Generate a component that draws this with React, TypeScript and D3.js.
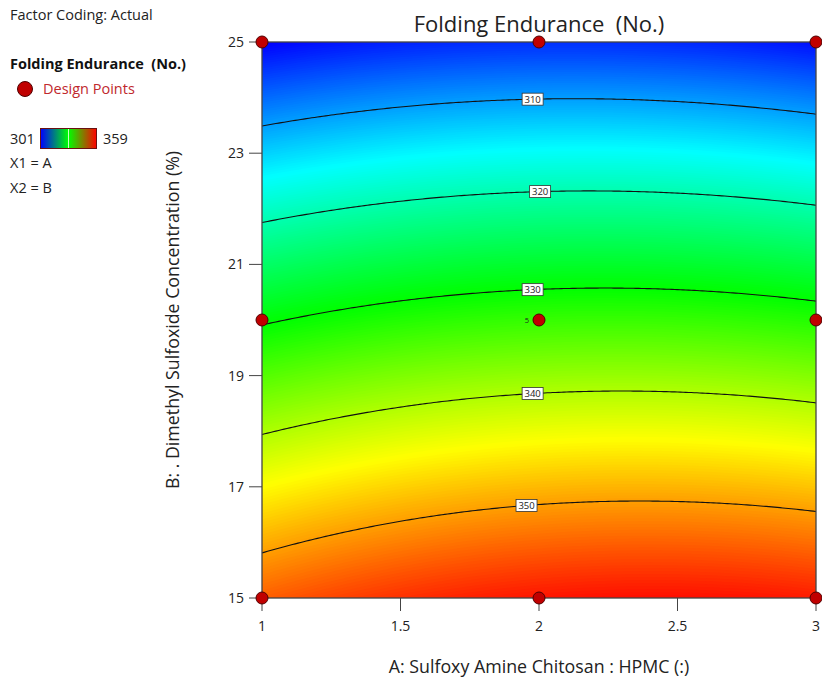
import { useMemo } from 'react';
import * as d3 from 'd3';

// Folding Endurance response surface (actual factor coding)
// FE = b0 + bA*A + bB*B + bAB*A*B + bAA*A^2 + bBB*B^2
const modelTerms = ['Intercept', 'A', 'B', 'AB', 'A^2', 'B^2'];
const modelCoefs = [386.965, 13.385, -1.428, -0.15, -2.3, -0.0924];

const contourLevels = [310, 320, 330, 340, 350];
const contourLabelA = [1.977, 2.004, 1.977, 1.977, 1.955];

const designA = [1, 2, 3, 1, 2, 3, 1, 2, 3];
const designB = [25, 25, 25, 20, 20, 20, 15, 15, 15];
const designRuns = [1, 1, 1, 1, 5, 1, 1, 1, 1];

const xTicks = [1, 1.5, 2, 2.5, 3];
const yTicks = [15, 17, 19, 21, 23, 25];
const colorLimits = [301, 359];
const rampColors = ['#0000ff', '#00ffff', '#00ff00', '#ffff00', '#ff0000'];

const FONT = '"Open Sans", "Noto Sans", sans-serif';
const TXT = '#222';

const coef = Object.fromEntries(modelTerms.map((t, i) => [t, modelCoefs[i]]));
const fe = (a: number, b: number) =>
  coef['Intercept'] + coef['A'] * a + coef['B'] * b + coef['AB'] * a * b + coef['A^2'] * a * a + coef['B^2'] * b * b;

// B where the surface equals `level` for a given A
const solveB = (a: number, level: number) => {
  const p = coef['B^2'];
  const q = coef['B'] + coef['AB'] * a;
  const r = coef['Intercept'] + coef['A'] * a + coef['A^2'] * a * a - level;
  const disc = Math.sqrt(q * q - 4 * p * r);
  const roots = [(-q + disc) / (2 * p), (-q - disc) / (2 * p)];
  return roots.find(v => v >= 13 && v <= 27) ?? NaN;
};

export default function App() {
  const W = 822, H = 682;
  const x = d3.scaleLinear().domain([1, 3]).range([262, 816]);
  const y = d3.scaleLinear().domain([15, 25]).range([598, 42]);

  const lo = colorLimits[0], hi = colorLimits[1];
  const color = d3.scaleLinear<string>()
    .domain(d3.range(rampColors.length).map(i => lo + (hi - lo) * i / (rampColors.length - 1)))
    .range(rampColors)
    .clamp(true);

  const n = 140;
  const bands = useMemo(() => {
    const vals: number[] = new Array(n * n);
    for (let j = 0; j < n; j++)
      for (let i = 0; i < n; i++)
        vals[i + j * n] = fe(1 + (i / (n - 1)) * 2, 15 + (j / (n - 1)) * 10);
    const step = 0.25;
    return d3.contours().size([n, n]).thresholds(d3.range(lo, hi + step, step))(vals);
  }, []);

  const proj = d3.geoTransform({
    point(px: number, py: number) {
      this.stream.point(
        x(1 + ((px - 0.5) / (n - 1)) * 2),
        y(15 + ((py - 0.5) / (n - 1)) * 10)
      );
    },
  });
  const geoPath = d3.geoPath(proj);

  const aSamples = d3.range(0, 201).map(k => 1 + (k / 200) * 2);
  const line = d3.line<[number, number]>().x(d => x(d[0])).y(d => y(d[1])).curve(d3.curveLinear);

  const [x0, x1] = x.range();
  const [y0, y1] = [y(25), y(15)];

  return (
    <svg width={W} height={H} style={{ position: 'absolute', left: 0, top: 0, background: '#fff' }}
      fontFamily={FONT}>
      <defs>
        <clipPath id="plot-clip">
          <rect x={x0} y={y0} width={x1 - x0} height={y1 - y0} />
        </clipPath>
        <linearGradient id="legend-grad">
          <stop offset="0%" stopColor="#0000ff" />
          <stop offset="50%" stopColor="#00ff00" />
          <stop offset="100%" stopColor="#ff0000" />
        </linearGradient>
      </defs>

      {/* legend */}
      <text x={10} y={20} fontSize={14.5} fill={TXT}>Factor Coding: Actual</text>
      <text x={10} y={69} fontSize={14.5} fontWeight="bold" fill="#111" xmlSpace="preserve">Folding Endurance  (No.)</text>
      <circle cx={25} cy={89} r={7.5} fill="#c00000" stroke="#500000" strokeWidth={1} />
      <text x={43} y={94} fontSize={14.5} fill="#c0282d">Design Points</text>
      <text x={10} y={144} fontSize={14.5} fill={TXT}>{colorLimits[0]}</text>
      <rect x={40.5} y={128.5} width={56} height={20} fill="url(#legend-grad)" stroke="#6a1010" strokeWidth={1} />
      <line x1={68.5} x2={68.5} y1={129} y2={148} stroke="#c8ffc8" strokeWidth={1} />
      <text x={103} y={144} fontSize={14.5} fill={TXT}>{colorLimits[1]}</text>
      <text x={10} y={168} fontSize={14.5} fill={TXT}>X1 = A</text>
      <text x={10} y={193} fontSize={14.5} fill={TXT}>X2 = B</text>

      {/* title */}
      <text x={(x0 + x1) / 2} y={32} fontSize={22} textAnchor="middle" fill={TXT} xmlSpace="preserve">
        Folding Endurance  (No.)
      </text>

      {/* colour surface */}
      <g clipPath="url(#plot-clip)">
        <rect x={x0} y={y0} width={x1 - x0} height={y1 - y0} fill={color(lo)} />
        {bands.map((b, i) => (
          <path key={i} d={geoPath(b as any) ?? ''} fill={color(b.value + 0.125)} />
        ))}
        {contourLevels.map(lv => {
          const pts = aSamples.map(a => [a, solveB(a, lv)] as [number, number]).filter(p => !isNaN(p[1]));
          return <path key={lv} d={line(pts) ?? ''} fill="none" stroke="#111" strokeWidth={1.1} />;
        })}
      </g>

      {/* frame */}
      <rect x={x0} y={y0} width={x1 - x0} height={y1 - y0} fill="none" stroke="#444" strokeWidth={1.3} />

      {/* contour labels */}
      {contourLevels.map((lv, i) => {
        const a = contourLabelA[i];
        const cx = x(a), cy = y(solveB(a, lv));
        return (
          <g key={lv}>
            <rect x={cx - 10.5} y={cy - 6} width={21} height={12} fill="#fff" stroke="#333" strokeWidth={0.8} />
            <text x={cx} y={cy + 3.4} fontSize={9.5} textAnchor="middle" fill={TXT}>{lv}</text>
          </g>
        );
      })}

      {/* axes */}
      {xTicks.map(t => (
        <g key={t}>
          <line x1={x(t)} x2={x(t)} y1={y1} y2={y1 + 13} stroke="#444" strokeWidth={1} />
          <text x={x(t)} y={631} fontSize={14} textAnchor="middle" fill={TXT}>{t}</text>
        </g>
      ))}
      {yTicks.map(t => (
        <g key={t}>
          <line x1={x0 - 13} x2={x0} y1={y(t)} y2={y(t)} stroke="#444" strokeWidth={1} />
          <text x={244} y={y(t) + 5} fontSize={14} textAnchor="end" fill={TXT}>{t}</text>
        </g>
      ))}
      <text x={(x0 + x1) / 2} y={673} fontSize={17.8} textAnchor="middle" fill={TXT}>
        A: Sulfoxy Amine Chitosan : HPMC (:)
      </text>
      <text transform={`translate(179,${(y0 + y1) / 2}) rotate(-90)`} fontSize={17.8} textAnchor="middle" fill={TXT}>
        B: . Dimethyl Sulfoxide Concentration (%)
      </text>

      {/* design points */}
      {designA.map((a, i) => (
        <g key={i}>
          <circle cx={x(a)} cy={y(designB[i])} r={6} fill="#c00000" stroke="#500000" strokeWidth={1} />
          {designRuns[i] > 1 && (
            <text x={x(a) - 10} y={y(designB[i]) + 3} fontSize={7.5} textAnchor="end" fill={TXT}>{designRuns[i]}</text>
          )}
        </g>
      ))}
    </svg>
  );
}
